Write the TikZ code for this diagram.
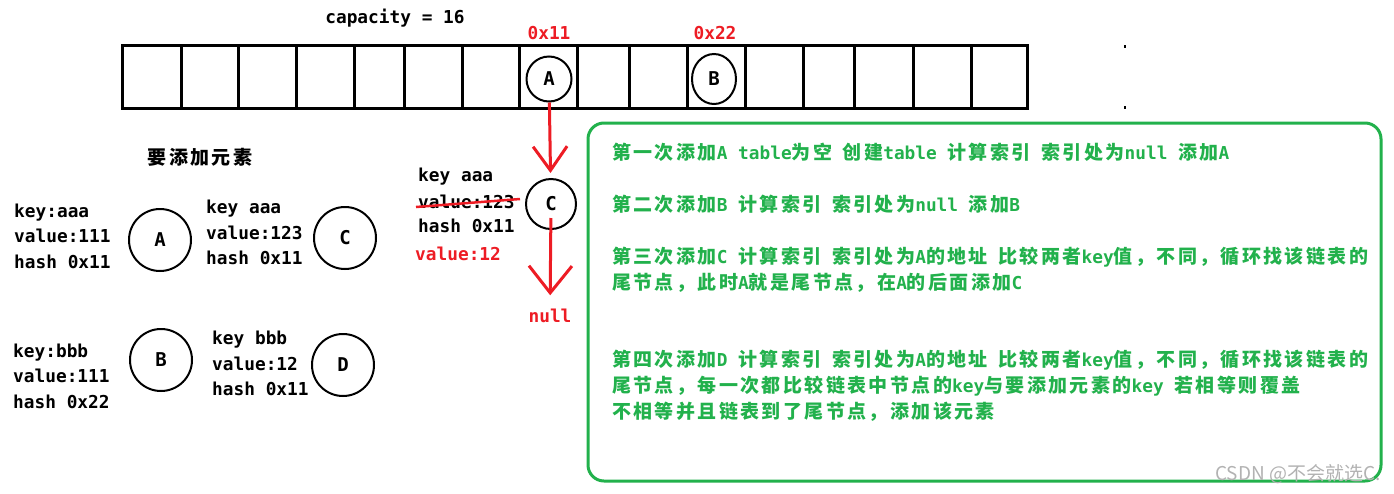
\documentclass[tikz,border=0pt]{standalone}
\usepackage{fontspec}
\setmainfont{DejaVu Sans Mono}
\newfontfamily\cjk{Noto Sans CJK SC}[LetterSpace=12.6]
\newfontfamily\wmfont{Noto Sans CJK SC}
\usetikzlibrary{arrows.meta, positioning, shapes.geometric}
\definecolor{pred}{HTML}{ED1C24}
\definecolor{pgreen}{HTML}{22B14C}
\newcommand\zh[1]{{\fontsize{19}{26}\selectfont\cjk #1}}

\begin{document}
\begin{tikzpicture}[
    x=1pt, y=-1pt,
    txt/.style={anchor=base west, inner sep=0pt, font=\fontsize{17.8}{26}\selectfont\bfseries},
    note/.style={txt, text=pgreen},
    ball/.style={draw, circle, line width=2pt, minimum size=62pt, inner sep=0pt,
        font=\fontsize{19}{26}\selectfont\bfseries},
    slot/.style={draw, line width=3pt},
    link/.style={-{Straight Barb[length=24pt, width=34pt]}, line width=3pt, draw=pred}
]
\useasboundingbox (0,0) rectangle (1394,493);

% table with 16 buckets
\draw[slot] (122,45) rectangle (1027,108);
\foreach \x in {181,238,296,354,404,462,519,577,629,687,745,803,854,913,971}
    \draw[slot] (\x,45) -- (\x,108);
\node[txt, anchor=base] (cap) at (395,23) {capacity = 16};
\node[txt, anchor=base, text=pred] (h1) at (549,39) {0x11};
\node[txt, anchor=base, text=pred] (h2) at (715,39) {0x22};
\node[ball, minimum size=45pt] (ta) at (549,79) {A};
\node[ball, ellipse, minimum width=44pt, minimum height=50pt] (tb) at (714,79) {B};
\fill (1124,45) rectangle (1126,48);
\fill (1124,106) rectangle (1126,109);

% elements to add
\node[txt, anchor=base] (title) at (200,164) {\zh{要添加元素}};
\node[txt] (a1) at (14,217.5) {key:aaa};
\node[txt] (a2) at (14,242.5) {value:111};
\node[txt] (a3) at (14,268.5) {hash 0x11};
\node[ball] (ka) at (160,240) {A};
\node[txt] (c1) at (206,213.5) {key aaa};
\node[txt] (c2) at (206,239.5) {value:123};
\node[txt] (c3) at (206,264.5) {hash 0x11};
\node[ball] (kc) at (345,238) {C};
\node[txt] (b1) at (13,357.5) {key:bbb};
\node[txt] (b2) at (13,382.5) {value:111};
\node[txt] (b3) at (13,408.5) {hash 0x22};
\node[ball] (kb) at (161,360) {B};
\node[txt] (d1) at (212,344.5) {key bbb};
\node[txt] (d2) at (212,370.5) {value:12};
\node[txt] (d3) at (212,395.5) {hash 0x11};
\node[ball] (kd) at (343,365) {D};

% chain at bucket 0x11
\node[txt] (m1) at (418,181.5) {key aaa};
\node[txt] (m2) at (418,208.5) {value:123};
\node[txt] (m3) at (418,232.5) {hash 0x11};
\node[txt, text=pred] (m4) at (415,260.5) {value:12};
\draw[pred, line width=2.5pt] (416,207) -- (520,199);
\node[ball, minimum size=50pt] (nc) at (551,204) {C};
\node[txt, anchor=base, text=pred] (nul) at (550,322) {null};
\draw[link, shorten >=5pt] (ta) -- (nc);
\draw[link, -{Straight Barb[length=27pt, width=43pt]}, shorten <=14pt, shorten >=13pt] (nc.center) -- (nul);

% notes
\draw[pgreen, line width=3pt, rounded corners=16pt] (588,123) rectangle (1381,481);
\node[note] (s1) at (612,159) {\zh{第一次添加}A table\zh{为空} \zh{创建}table \zh{计算索引} \zh{索引处为}null \zh{添加}A};
\node[note] (s2) at (612,211) {\zh{第二次添加}B \zh{计算索引} \zh{索引处为}null \zh{添加}B};
\node[note] (s3) at (612,263) {\zh{第三次添加}C \zh{计算索引} \zh{索引处为}A\zh{的地址} \zh{比较两者}key\zh{值，不同，循环找该链表的}};
\node[note] (s4) at (612,289) {\zh{尾节点，此时}A\zh{就是尾节点，在}A\zh{的后面添加}C};
\node[note] (s5) at (612,366) {\zh{第四次添加}D \zh{计算索引} \zh{索引处为}A\zh{的地址} \zh{比较两者}key\zh{值，不同，循环找该链表的}};
\node[note] (s6) at (612,392) {\zh{尾节点，每一次都比较链表中节点的}key\zh{与要添加元素的}key \zh{若相等则覆盖}};
\node[note] (s7) at (612,418) {\zh{不相等并且链表到了尾节点，添加该元素}};

\node[anchor=base west, inner sep=0pt, text=gray!60, font=\fontsize{19}{22}\selectfont\wmfont] (wm) at (1215,480) {CSDN @不会就选C.};
\end{tikzpicture}
\end{document}
